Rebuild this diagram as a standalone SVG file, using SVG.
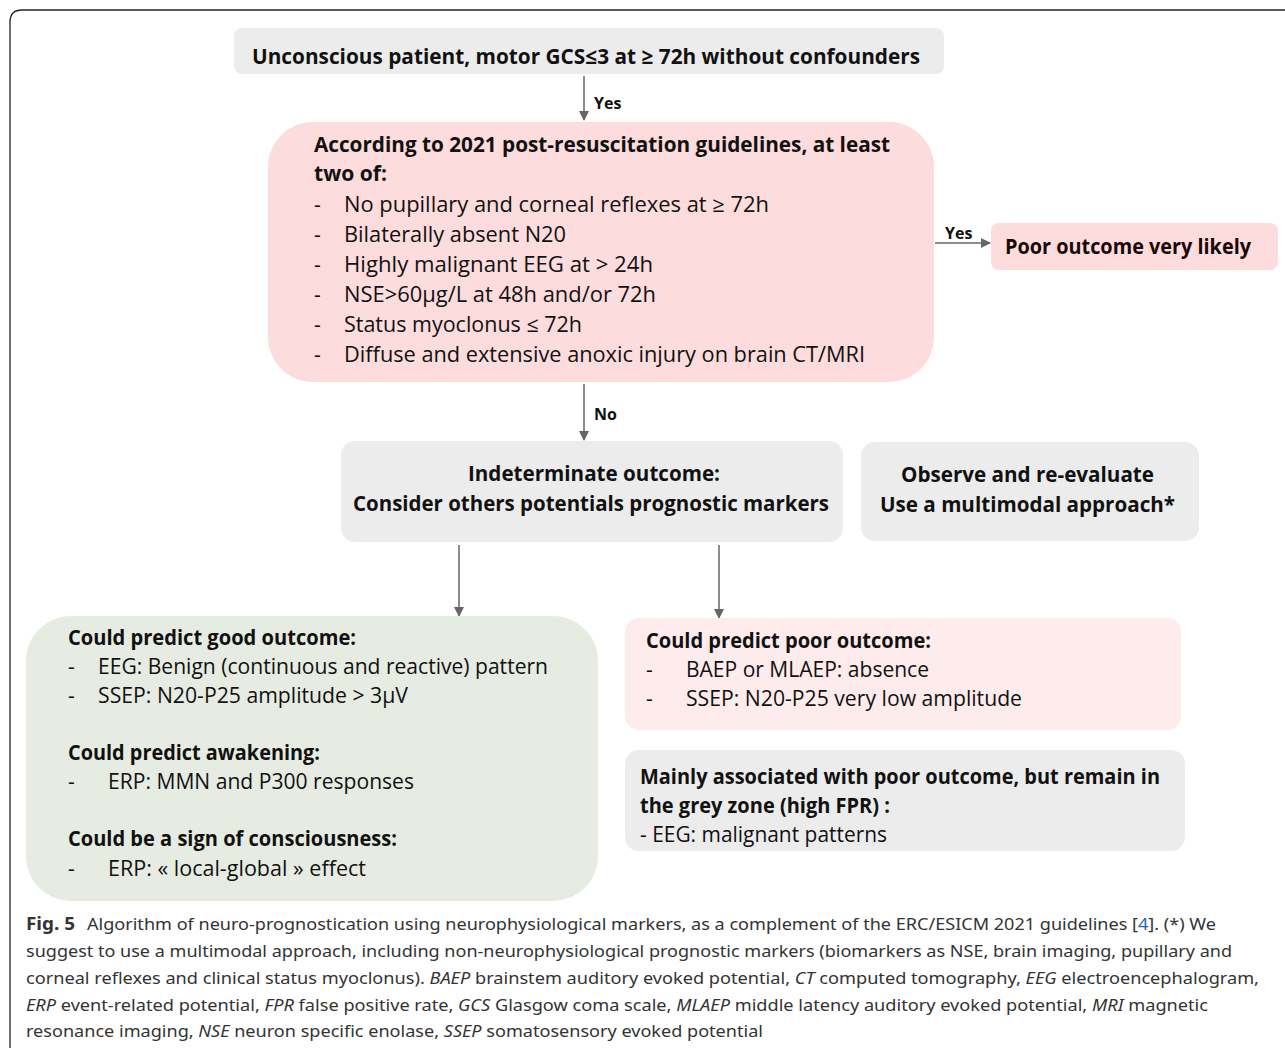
<svg xmlns="http://www.w3.org/2000/svg" width="1285" height="1048" viewBox="0 0 1285 1048">
<defs>
<marker id="arr" markerWidth="10" markerHeight="10" refX="9" refY="5" orient="auto" markerUnits="userSpaceOnUse">
<path d="M0,0 L10,5 L0,10 Z" fill="#666"/>
</marker>
<style>
.t{font-family:"Open Sans","Noto Sans","DejaVu Sans",sans-serif;fill:#111;}
.b{font-weight:bold;font-size:21px;}
.r{font-size:21px;}
.lab{font-family:"Open Sans","Noto Sans",sans-serif;font-weight:bold;font-size:16px;fill:#111;}
.cap{font-family:"Noto Sans","Open Sans",sans-serif;font-size:17px;fill:#333;}
.con{stroke:#666;stroke-width:1.5;fill:none;}
.gray{fill:#ececec;}
.pink{fill:#fcdcdc;}
.lpink{fill:#fdeceb;}
.green{fill:#e7ece3;}
</style>
</defs>
<rect width="1285" height="1048" fill="#fff"/>
<path d="M10,1048 L10,22 Q10,10 22,10 L1285,10" fill="none" stroke="#222" stroke-width="1.3"/>

<g id="connectors">
<line class="con" x1="584" y1="76" x2="584" y2="120" marker-end="url(#arr)"/>
<text class="lab" x="594" y="109">Yes</text>
<line class="con" x1="935" y1="243" x2="990" y2="243" marker-end="url(#arr)"/>
<text class="lab" x="945" y="239">Yes</text>
<line class="con" x1="584" y1="384" x2="584" y2="440" marker-end="url(#arr)"/>
<text class="lab" x="594" y="420">No</text>
<line class="con" x1="459" y1="545" x2="459" y2="616" marker-end="url(#arr)"/>
<line class="con" x1="719" y1="545" x2="719" y2="618" marker-end="url(#arr)"/>
</g>

<g id="n-start">
<rect class="gray" x="234" y="28" width="710" height="46" rx="8"/>
<text class="t b" x="252" y="64" textLength="668" lengthAdjust="spacingAndGlyphs">Unconscious patient, motor GCS≤3 at ≥ 72h without confounders</text>
</g>

<g id="n-guidelines">
<rect class="pink" x="268" y="122" width="666" height="260" rx="45"/>
<text class="t b" x="314" y="152" textLength="576" lengthAdjust="spacingAndGlyphs">According to 2021 post-resuscitation guidelines, at least</text>
<text class="t b" x="314" y="181" textLength="73" lengthAdjust="spacingAndGlyphs">two of:</text>
<g class="t r">
<text x="314" y="212">-</text><text x="344" y="212" textLength="425" lengthAdjust="spacingAndGlyphs">No pupillary and corneal reflexes at  ≥ 72h</text>
<text x="314" y="242">-</text><text x="344" y="242" textLength="222" lengthAdjust="spacingAndGlyphs">Bilaterally absent N20</text>
<text x="314" y="272">-</text><text x="344" y="272" textLength="309" lengthAdjust="spacingAndGlyphs">Highly malignant EEG at  &gt; 24h</text>
<text x="314" y="302">-</text><text x="344" y="302" textLength="312" lengthAdjust="spacingAndGlyphs">NSE&gt;60µg/L at 48h and/or 72h</text>
<text x="314" y="332">-</text><text x="344" y="332" textLength="238" lengthAdjust="spacingAndGlyphs">Status myoclonus ≤ 72h</text>
<text x="314" y="362">-</text><text x="344" y="362" textLength="521" lengthAdjust="spacingAndGlyphs">Diffuse and extensive anoxic injury on brain CT/MRI</text>
</g>
</g>

<g id="n-poor-likely">
<rect class="pink" x="991" y="223" width="287" height="47" rx="8"/>
<text class="t b" x="1005" y="254" textLength="246" lengthAdjust="spacingAndGlyphs" style="fill:#1a0808">Poor outcome very likely</text>
</g>

<g id="n-indeterminate">
<rect class="gray" x="341" y="441" width="502" height="101" rx="14"/>
<text class="t b" x="468" y="481" textLength="252" lengthAdjust="spacingAndGlyphs">Indeterminate outcome:</text>
<text class="t b" x="353" y="511" textLength="476" lengthAdjust="spacingAndGlyphs">Consider others potentials prognostic markers</text>
</g>

<g id="n-observe">
<rect class="gray" x="861" y="442" width="338" height="99" rx="14"/>
<text class="t b" x="901" y="482" textLength="253" lengthAdjust="spacingAndGlyphs">Observe and re-evaluate</text>
<text class="t b" x="880" y="512" textLength="295" lengthAdjust="spacingAndGlyphs">Use a multimodal approach*</text>
</g>

<g id="n-good">
<rect class="green" x="26" y="616" width="572" height="285" rx="45"/>
<text class="t b" x="68" y="645" textLength="288" lengthAdjust="spacingAndGlyphs">Could predict good outcome:</text>
<g class="t r">
<text x="68" y="674">-</text><text x="98" y="674" textLength="450" lengthAdjust="spacingAndGlyphs">EEG: Benign (continuous and reactive) pattern</text>
<text x="68" y="703">-</text><text x="98" y="703" textLength="310" lengthAdjust="spacingAndGlyphs">SSEP: N20-P25 amplitude &gt; 3µV</text>
</g>
<text class="t b" x="68" y="760" textLength="252" lengthAdjust="spacingAndGlyphs">Could predict awakening:</text>
<g class="t r">
<text x="68" y="789">-</text><text x="108" y="789" textLength="306" lengthAdjust="spacingAndGlyphs">ERP: MMN and P300 responses</text>
</g>
<text class="t b" x="68" y="846" textLength="329" lengthAdjust="spacingAndGlyphs">Could be a sign of consciousness:</text>
<g class="t r">
<text x="68" y="876">-</text><text x="108" y="876" textLength="258" lengthAdjust="spacingAndGlyphs">ERP: « local-global » effect</text>
</g>
</g>

<g id="n-poor">
<rect class="lpink" x="625" y="618" width="556" height="112" rx="14"/>
<text class="t b" x="646" y="648" textLength="285" lengthAdjust="spacingAndGlyphs">Could predict poor outcome:</text>
<g class="t r">
<text x="646" y="677">-</text><text x="686" y="677" textLength="243" lengthAdjust="spacingAndGlyphs">BAEP or MLAEP: absence</text>
<text x="646" y="706">-</text><text x="686" y="706" textLength="336" lengthAdjust="spacingAndGlyphs">SSEP: N20-P25 very low amplitude</text>
</g>
</g>

<g id="n-grey">
<rect class="gray" x="625" y="750" width="560" height="101" rx="14"/>
<text class="t b" x="640" y="784" textLength="520" lengthAdjust="spacingAndGlyphs">Mainly associated with poor outcome, but remain in</text>
<text class="t b" x="640" y="813" textLength="250" lengthAdjust="spacingAndGlyphs">the grey zone (high FPR) :</text>
<text class="t r" x="640" y="842" textLength="247" lengthAdjust="spacingAndGlyphs">- EEG: malignant patterns</text>
</g>

<g id="caption">
<text class="cap" x="26" y="930" font-weight="bold" fill="#111" style="font-size:18px" textLength="49" lengthAdjust="spacingAndGlyphs">Fig. 5</text>
<text class="cap" x="87" y="930" textLength="1129" lengthAdjust="spacingAndGlyphs">Algorithm of neuro-prognostication using neurophysiological markers, as a complement of the ERC/ESICM 2021 guidelines [<tspan fill="#2b5fb4">4</tspan>]. (*) We</text>
<text class="cap" x="26" y="957" textLength="1206" lengthAdjust="spacingAndGlyphs">suggest to use a multimodal approach, including non-neurophysiological prognostic markers (biomarkers as NSE, brain imaging, pupillary and</text>
<text class="cap" x="26" y="984" textLength="1233" lengthAdjust="spacingAndGlyphs">corneal reflexes and clinical status myoclonus). <tspan font-style="italic">BAEP</tspan> brainstem auditory evoked potential, <tspan font-style="italic">CT</tspan> computed tomography, <tspan font-style="italic">EEG</tspan> electroencephalogram,</text>
<text class="cap" x="26" y="1011" textLength="1182" lengthAdjust="spacingAndGlyphs"><tspan font-style="italic">ERP</tspan> event-related potential, <tspan font-style="italic">FPR</tspan> false positive rate, <tspan font-style="italic">GCS</tspan> Glasgow coma scale, <tspan font-style="italic">MLAEP</tspan> middle latency auditory evoked potential, <tspan font-style="italic">MRI</tspan> magnetic</text>
<text class="cap" x="26" y="1037" textLength="737" lengthAdjust="spacingAndGlyphs">resonance imaging, <tspan font-style="italic">NSE</tspan> neuron specific enolase, <tspan font-style="italic">SSEP</tspan> somatosensory evoked potential</text>
</g>
</svg>
